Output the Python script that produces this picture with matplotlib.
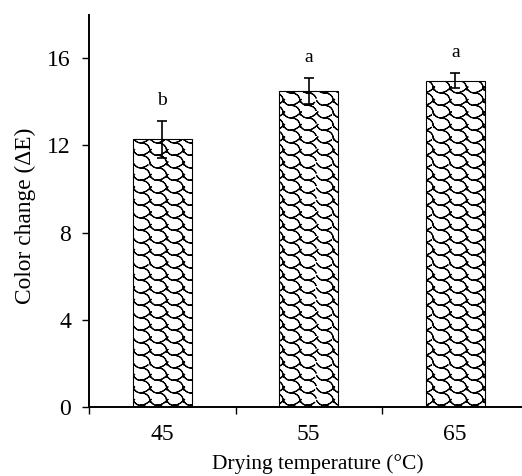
import numpy as np
import matplotlib
matplotlib.use("Agg")
import matplotlib.pyplot as plt
import matplotlib.hatch as mhatch
from matplotlib.path import Path

# ---- data ----
categories = ["45", "55", "65"]
values = [12.28, 14.50, 14.96]
errors = [0.85, 0.60, 0.35]
letters = ["b", "a", "a"]
yticks = [0, 4, 8, 12, 16]


# ---- custom "shingle" hatch (Excel-like), triggered by '*' ----
def _bez(p0, p1, p2, n=8):
    t = np.linspace(0, 1, n)[:, None]
    p0, p1, p2 = map(np.asarray, (p0, p1, p2))
    return (1 - t) ** 2 * p0 + 2 * (1 - t) * t * p1 + t ** 2 * p2


def _there_and_back(c):
    # Agg fills hatch paths; retracing makes the filled area zero
    return np.vstack([c, c[-2::-1]])


class Shingle(mhatch.HatchPatternBase):
    # cell-relative curves (u right, v down), each cell repeated on a grid
    _curves = [
        _there_and_back(np.vstack([_bez((0.0, 0.05), (0.2, 0.45), (0.42, 0.42)),
                                   _bez((0.42, 0.42), (0.75, 0.40), (1.0, 0.05))[1:]])),
        _there_and_back(_bez((0.42, 0.42), (0.95, 0.45), (1.0, 1.05))),
    ]
    nx, ny = 6, 8

    def __init__(self, hatch, density):
        self.on = hatch.count('*') > 0
        self.cells = [(i, j) for i in range(-1, self.nx + 1) for j in range(-1, self.ny + 1)]
        per = sum(len(c) for c in self._curves)
        self.num_vertices = per * len(self.cells) if self.on else 0

    def set_vertices_and_codes(self, vertices, codes):
        k = 0
        W, H = 1.0 / self.nx, 1.0 / self.ny
        for (i, j) in self.cells:
            for c in self._curves:
                n = len(c)
                vertices[k:k + n, 0] = (i + c[:, 0]) * W
                vertices[k:k + n, 1] = 1.0 - (j + c[:, 1]) * H
                codes[k] = Path.MOVETO
                codes[k + 1:k + n] = Path.LINETO
                k += n


mhatch._hatch_types[:] = [t for t in mhatch._hatch_types if t is not mhatch.Stars] + [Shingle]

plt.rcParams['font.family'] = ['Liberation Serif', 'DejaVu Serif']
plt.rcParams['hatch.linewidth'] = 0.8
plt.rcParams['hatch.color'] = '#1a1a1a'

fig = plt.figure(figsize=(5.22, 4.76), dpi=100)
ax = fig.add_axes([89 / 522, 69 / 476, (528.5 - 89) / 522, (407 - 14.5) / 476])

x = np.arange(len(categories))
ax.bar(x, values, width=0.4, color='white', edgecolor='black', linewidth=0.8,
       hatch='*', zorder=2)
ax.errorbar(x, values, yerr=errors, fmt='none', ecolor='black', elinewidth=1.2,
            capsize=3.3, capthick=1.2, zorder=3)

for xi, v, e, t in zip(x, values, errors, letters):
    ax.annotate(t, (xi, v + e), xytext=(0, 11.5), textcoords='offset points',
                ha='center', va='baseline', fontsize=14)

ax.set_xlim(-0.5, len(categories) - 0.5)
ax.set_ylim(0, 18)
ax.set_yticks(yticks)
ax.set_xticks(x)
ax.set_xticklabels(categories)
ax.set_xticks(np.arange(len(categories) + 1) - 0.5, minor=True)
ax.tick_params(axis='x', which='major', length=0, pad=12, labelsize=17)
ax.tick_params(axis='x', which='minor', length=5, width=1.0, direction='out')
ax.tick_params(axis='y', which='major', length=5, width=1.0, direction='out', labelsize=17, pad=8)

for s in ['top', 'right']:
    ax.spines[s].set_visible(False)
for s in ['left', 'bottom']:
    ax.spines[s].set_linewidth(1.4)

ax.set_xlabel('Drying temperature (°C)', fontsize=15.5, labelpad=7)
ax.xaxis.label.set_x(0.521)
ax.set_ylabel('Color change (ΔE)', fontsize=16.8, labelpad=8)
ax.yaxis.label.set_y(0.487)

fig.savefig('out.png', dpi=100)
